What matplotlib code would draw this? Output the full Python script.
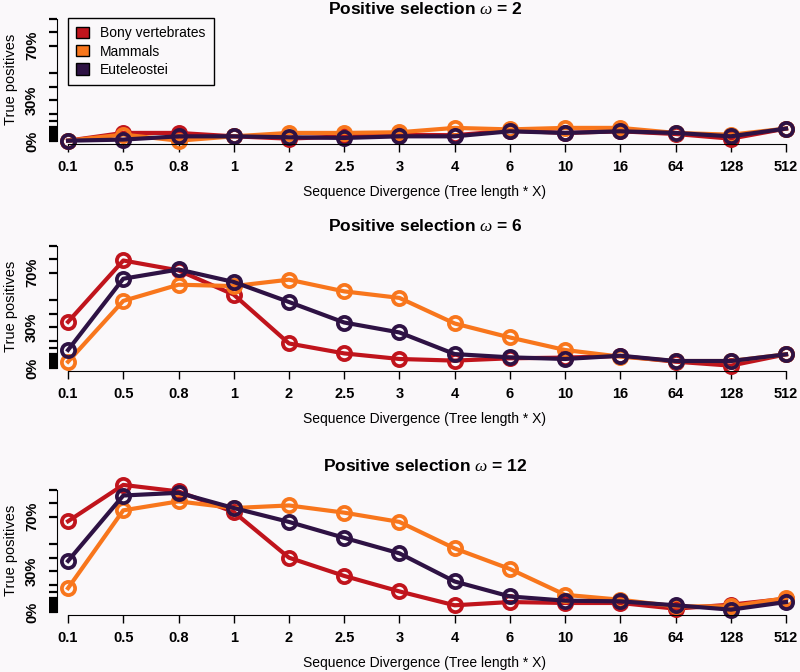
import matplotlib
matplotlib.use('Agg')
from matplotlib import pyplot as plt
from matplotlib.patches import Patch

plt.rcParams['font.family'] = ['Liberation Sans', 'DejaVu Sans']
plt.rcParams['mathtext.fontset'] = 'custom'
plt.rcParams['mathtext.it'] = 'Liberation Serif:italic'

divergence = ['0.1', '0.5', '0.8', '1', '2', '2.5', '3', '4', '6', '10', '16', '64', '128', '512']
groups = ['Bony vertebrates', 'Mammals', 'Euteleostei']
colors = ['#C0141C', '#F8761C', '#2E1244']
omegas = [2, 6, 12]

# true positives (%) per omega, per group
bony = {
    2: [0.2, 5.9, 5.9, 3.4, 1.7, 3.4, 4.6, 4.2, 7.6, 5.9, 7.1, 5.1, 1.7, 9.1],
    6: [33.9, 79.0, 71.7, 53.9, 18.0, 10.7, 6.6, 5.4, 7.1, 7.6, 8.8, 4.6, 1.7, 10.0],
    12: [66.7, 93.4, 88.6, 73.5, 39.9, 26.5, 15.1, 4.9, 7.3, 6.6, 6.6, 2.4, 5.4, 9.7],
}
mammals = {
    2: [0.2, 4.7, 0.2, 3.4, 5.9, 5.9, 6.4, 9.6, 8.5, 9.6, 9.6, 5.9, 4.6, 9.1],
    6: [4.6, 49.3, 61.2, 60.2, 64.9, 56.3, 51.5, 32.7, 22.4, 13.2, 8.3, 5.1, 5.1, 10.0],
    12: [17.5, 74.7, 81.3, 76.4, 78.3, 73.0, 66.2, 46.7, 31.6, 12.6, 9.0, 4.1, 4.1, 10.2],
}
euteleostei = {
    2: [0.2, 1.0, 3.4, 3.4, 2.7, 2.2, 3.4, 3.4, 7.1, 5.9, 7.1, 5.9, 3.4, 9.1],
    6: [13.2, 65.6, 72.4, 63.2, 48.5, 33.4, 26.1, 10.2, 7.8, 6.6, 9.0, 5.1, 5.1, 10.0],
    12: [37.5, 85.6, 87.6, 76.4, 66.2, 54.5, 43.1, 22.4, 11.4, 8.3, 7.8, 4.9, 1.7, 7.3],
}
series = [bony, mammals, euteleostei]

y_labels = ['0%', '30%', '70%']
y_major = [0, 30, 70]
y_minor = list(range(1, 11)) + [15, 20, 40, 50, 80, 90]

bg = '#FAF8FA'
fig = plt.figure(figsize=(8, 6.72), dpi=100, facecolor=bg)

bottoms = [0.7862, 0.4484, 0.0853]
title_y = [9, 226, 466]
x = list(range(len(divergence)))

for i, w in enumerate(omegas):
    ax = fig.add_axes([0.07125, bottoms[i], 0.9196, 0.1923], facecolor=bg)
    for data, c in zip(series, colors):
        ax.plot(x, data[w], color=c, lw=3, marker='o', ms=9.5, mew=2.7,
                mfc='none', mec=c, solid_joinstyle='round', clip_on=False)
    ax.set_xlim(-0.2, 13.12)
    ax.set_ylim(-2, 93)
    for s in ['top', 'right']:
        ax.spines[s].set_visible(False)
    ax.spines['bottom'].set_bounds(0, 13)
    ax.spines['left'].set_bounds(0, 90)
    ax.set_xticks(x)
    ax.set_xticklabels(divergence, fontsize=10.5, fontweight='bold')
    ax.set_yticks(y_major)
    ax.set_yticks(y_minor, minor=True)
    ax.set_yticklabels(y_labels, rotation=90, va='center', fontsize=10.5, fontweight='bold')
    ax.tick_params(axis='x', length=6, width=1, pad=6)
    ax.tick_params(axis='y', which='both', length=6, width=1.6, pad=7)
    ax.set_xlabel('Sequence Divergence (Tree length * X)', fontsize=10, labelpad=8)
    ax.set_ylabel('True positives', fontsize=10.5, labelpad=5)
    cx = 0.07125 + 0.9196 / 2
    fig.text(cx, 1 - title_y[i] / 672, r'Positive selection $\omega$ = %d' % w,
             ha='center', va='center', fontsize=12.5, fontweight='bold')

    if i == 0:
        handles = [Patch(facecolor=c, edgecolor='black', lw=1) for c in colors]
        leg = ax.legend(handles, groups, loc='upper left',
                        bbox_to_anchor=(68 / 800, 1 - 18 / 672),
                        bbox_transform=fig.transFigure, borderaxespad=0,
                        fontsize=10, handlelength=0.9, handleheight=0.9,
                        handletextpad=0.8, labelspacing=0.3, borderpad=0.6,
                        fancybox=False, framealpha=1, facecolor=bg, edgecolor='black')
        leg.get_frame().set_linewidth(1)

fig.savefig('out.png', dpi=100, facecolor=bg)
